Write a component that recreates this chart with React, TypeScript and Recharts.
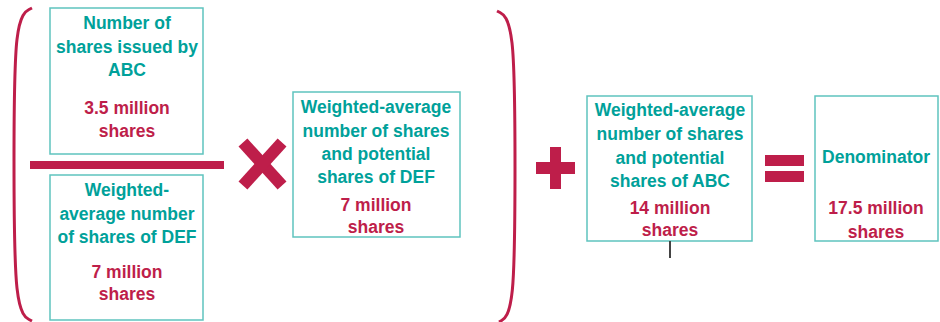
import {
  ComposedChart,
  XAxis,
  YAxis,
  ReferenceArea,
  ReferenceLine,
  Line,
  Scatter
} from 'recharts';

const TEAL = '#00a19a';
const TEAL_BORDER = '#5fc4bf';
const CRIMSON = '#be1e4a';

// boxes of the formula (diagram units = pixels)
const boxes = [
  { id: 'abcIssued', x1: 50, x2: 203, y1: 8, y2: 154 },
  { id: 'defWeighted', x1: 50, x2: 203, y1: 175, y2: 320 },
  { id: 'defPotential', x1: 293, x2: 460, y1: 92, y2: 237 },
  { id: 'abcPotential', x1: 587, x2: 752, y1: 96, y2: 241 },
  { id: 'denominator', x1: 815, x2: 938, y1: 96, y2: 241 }
];

// solid operator shapes: fraction bar, plus, equals
const solidRects = [
  { id: 'fraction', x1: 30, x2: 224, y1: 161, y2: 169 },
  { id: 'plusH', x1: 536, x2: 575, y1: 162, y2: 174 },
  { id: 'plusV', x1: 550, x2: 561, y1: 147, y2: 189 },
  { id: 'eqTop', x1: 765, x2: 804, y1: 155, y2: 166 },
  { id: 'eqBottom', x1: 765, x2: 804, y1: 171, y2: 182 }
];

const timesStrokes = [
  [{ x: 247, y: 147 }, { x: 278, y: 181 }],
  [{ x: 278, y: 147 }, { x: 247, y: 181 }]
];

// bracket control points (drawn as a basis spline)
const leftParen = [
  { x: 32, y: 8 }, { x: 14, y: 17 }, { x: 14, y: 160 },
  { x: 14, y: 312 }, { x: 32, y: 321 }
];
const rightParen = [
  { x: 497, y: 11 }, { x: 515, y: 20 }, { x: 515, y: 166 },
  { x: 515, y: 313 }, { x: 499, y: 322 }
];

const titleLines = [
  { x: 127, y: 23, text: 'Number of' },
  { x: 127, y: 47, text: 'shares issued by' },
  { x: 127, y: 70, text: 'ABC' },
  { x: 127, y: 190, text: 'Weighted-' },
  { x: 127, y: 214, text: 'average number' },
  { x: 127, y: 237, text: 'of shares of DEF' },
  { x: 376, y: 107, text: 'Weighted-average' },
  { x: 376, y: 131, text: 'number of shares' },
  { x: 376, y: 154, text: 'and potential' },
  { x: 376, y: 177, text: 'shares of DEF' },
  { x: 670, y: 110, text: 'Weighted-average' },
  { x: 670, y: 134, text: 'number of shares' },
  { x: 670, y: 158, text: 'and potential' },
  { x: 670, y: 181, text: 'shares of ABC' },
  { x: 876, y: 157, text: 'Denominator' }
];

const valueLines = [
  { x: 127, y: 108, text: '3.5 million' },
  { x: 127, y: 131, text: 'shares' },
  { x: 127, y: 272, text: '7 million' },
  { x: 127, y: 294, text: 'shares' },
  { x: 376, y: 205, text: '7 million' },
  { x: 376, y: 227, text: 'shares' },
  { x: 670, y: 208, text: '14 million' },
  { x: 670, y: 230, text: 'shares' },
  { x: 876, y: 208, text: '17.5 million' },
  { x: 876, y: 232, text: 'shares' }
];

const connector = [{ x: 670, y: 241 }, { x: 670, y: 258 }];

const textShape = (color: string) => (props: any) => {
  const { cx, cy, payload } = props;
  return (
    <text
      x={cx}
      y={cy}
      textAnchor="middle"
      dominantBaseline="central"
      fill={color}
      fontSize={17.5}
      fontWeight={700}
      fontFamily="'Liberation Sans', Arial, sans-serif"
    >
      {payload.text}
    </text>
  );
};

export default function App() {
  return (
    <div style={{ position: 'fixed', top: 0, left: 0, background: '#fff' }}>
      <ComposedChart width={940} height={322} margin={{ top: 0, right: 0, bottom: 0, left: 0 }}>
        <XAxis type="number" dataKey="x" domain={[0, 940]} hide allowDataOverflow />
        <YAxis type="number" dataKey="y" domain={[0, 322]} reversed hide allowDataOverflow />
        {boxes.map(b => (
          <ReferenceArea
            key={b.id}
            x1={b.x1}
            x2={b.x2}
            y1={b.y1}
            y2={b.y2}
            fill="#fff"
            fillOpacity={1}
            stroke={TEAL_BORDER}
            strokeWidth={1.5}
            ifOverflow="visible"
          />
        ))}
        {solidRects.map(r => (
          <ReferenceArea
            key={r.id}
            x1={r.x1}
            x2={r.x2}
            y1={r.y1}
            y2={r.y2}
            fill={CRIMSON}
            fillOpacity={1}
            stroke="none"
            ifOverflow="visible"
          />
        ))}
        {timesStrokes.map((seg, i) => (
          <ReferenceLine
            key={'t' + i}
            segment={seg}
            stroke={CRIMSON}
            strokeWidth={12}
            strokeLinecap="square"
            ifOverflow="visible"
          />
        ))}
        <ReferenceLine segment={connector} stroke="#444" strokeWidth={2} ifOverflow="visible" />
        <Line
          data={leftParen}
          dataKey="y"
          type="basis"
          stroke={CRIMSON}
          strokeWidth={3}
          dot={false}
          activeDot={false}
          isAnimationActive={false}
        />
        <Line
          data={rightParen}
          dataKey="y"
          type="basis"
          stroke={CRIMSON}
          strokeWidth={3}
          dot={false}
          activeDot={false}
          isAnimationActive={false}
        />
        <Scatter data={titleLines} dataKey="y" shape={textShape(TEAL)} isAnimationActive={false} />
        <Scatter data={valueLines} dataKey="y" shape={textShape(CRIMSON)} isAnimationActive={false} />
      </ComposedChart>
    </div>
  );
}
